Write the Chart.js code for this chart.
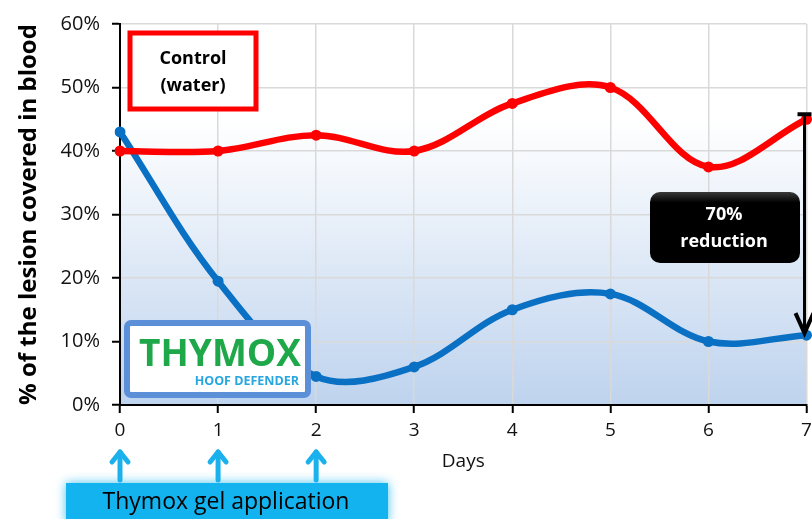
<!DOCTYPE html>
<html>
<head>
<meta charset="utf-8">
<script src="https://cdn.jsdelivr.net/npm/chart.js@4.4.1/dist/chart.umd.min.js"></script>
<style>
  html, body { margin: 0; padding: 0; background: #fff; }
  #wrap { width: 812px; height: 519px; position: relative; }
</style>
</head>
<body>
<div id="wrap"><canvas id="chart" width="812" height="519"></canvas></div>
<script>
// data (percent of lesion covered in blood)
const days = ["0", "1", "2", "3", "4", "5", "6", "7"];
const controlWater = [40, 40, 42.5, 40, 47.5, 50, 37.5, 45];
const thymoxGel = [43, 19.5, 4.5, 6, 15, 17.5, 10, 11];
const applicationDays = [0, 1, 2];

const FONT = "'Open Sans', 'DejaVu Sans', sans-serif";

// white-to-blue fill behind the plot
const plotBackground = {
  id: "plotBackground",
  beforeDraw(chart) {
    const { ctx, chartArea: a } = chart;
    const g = ctx.createLinearGradient(0, a.top, 0, a.bottom);
    g.addColorStop(0, "#ffffff");
    g.addColorStop(0.25, "#ffffff");
    g.addColorStop(1, "#bed3ee");
    ctx.save();
    ctx.fillStyle = g;
    ctx.fillRect(a.left, a.top, a.right - a.left, a.bottom - a.top);
    ctx.restore();
  },
};

function roundRect(ctx, x, y, w, h, r) {
  ctx.beginPath();
  ctx.moveTo(x + r, y);
  ctx.arcTo(x + w, y, x + w, y + h, r);
  ctx.arcTo(x + w, y + h, x, y + h, r);
  ctx.arcTo(x, y + h, x, y, r);
  ctx.arcTo(x, y, x + w, y, r);
  ctx.closePath();
}

// boxes, logo, arrows
const annotations = {
  id: "annotations",
  afterDatasetsDraw(chart) {
    const { ctx, scales } = chart;
    const x = scales.x, y = scales.y;
    ctx.save();

    // Control (water) box
    ctx.fillStyle = "#ffffff";
    ctx.fillRect(130, 33, 126, 76);
    ctx.strokeStyle = "#ff0000";
    ctx.lineWidth = 5;
    ctx.strokeRect(130, 33, 126, 76);
    ctx.fillStyle = "#000";
    ctx.font = "bold 18px " + FONT;
    ctx.textAlign = "center";
    ctx.textBaseline = "middle";
    ctx.fillText("Control", 193, 59);
    ctx.fillText("(water)", 193, 86);

    // THYMOX logo box
    roundRect(ctx, 127, 323, 181, 72, 4);
    ctx.fillStyle = "#ffffff";
    ctx.fill();
    ctx.strokeStyle = "#5b8fd8";
    ctx.lineWidth = 6;
    ctx.stroke();
    ctx.fillStyle = "#1fa84a";
    ctx.font = "bold 37px " + FONT;
    ctx.textAlign = "center";
    ctx.textBaseline = "alphabetic";
    ctx.fillText("THYMOX", 220, 366);
    ctx.fillStyle = "#27a6df";
    ctx.font = "bold 12.5px " + FONT;
    ctx.textAlign = "right";
    ctx.fillText("HOOF DEFENDER", 299, 385);

    // reduction arrow between the two day-7 values
    const ax = x.getPixelForValue(7) - 2;
    const yTop = y.getPixelForValue(controlWater[7]) - 5;
    const yBot = y.getPixelForValue(thymoxGel[7]) - 2;
    ctx.strokeStyle = "#000";
    ctx.lineWidth = 3;
    ctx.beginPath();
    ctx.moveTo(ax, yTop);
    ctx.lineTo(ax, yBot);
    ctx.stroke();
    ctx.lineWidth = 4;
    ctx.beginPath();
    ctx.moveTo(ax - 7, yTop);
    ctx.lineTo(ax + 7, yTop);
    ctx.stroke();
    ctx.beginPath();
    ctx.moveTo(ax - 9, yBot - 20);
    ctx.lineTo(ax, yBot);
    ctx.lineTo(ax + 9, yBot - 20);
    ctx.stroke();

    // 70% reduction label
    const lg = ctx.createLinearGradient(0, 192, 0, 263);
    lg.addColorStop(0, "#3a3a3a");
    lg.addColorStop(0.15, "#000000");
    lg.addColorStop(1, "#000000");
    roundRect(ctx, 650, 192, 150, 71, 10);
    ctx.fillStyle = lg;
    ctx.fill();
    ctx.fillStyle = "#ffffff";
    ctx.font = "bold 18px " + FONT;
    ctx.textAlign = "center";
    ctx.textBaseline = "middle";
    ctx.fillText("70%", 724, 215);
    ctx.fillText("reduction", 724, 242);

    // gel application box with glow
    ctx.save();
    ctx.shadowColor = "rgba(20, 180, 240, 0.8)";
    ctx.shadowBlur = 10;
    ctx.fillStyle = "#13b3ef";
    ctx.fillRect(66, 483, 322, 40);
    ctx.restore();
    ctx.fillStyle = "#000";
    ctx.font = "23px " + FONT;
    ctx.textAlign = "center";
    ctx.textBaseline = "middle";
    ctx.fillText("Thymox gel application", 226, 502);

    // up arrows under the application days
    ctx.strokeStyle = "#1ab1ed";
    ctx.lineWidth = 5;
    ctx.lineCap = "round";
    ctx.lineJoin = "round";
    applicationDays.forEach((d) => {
      const px = x.getPixelForValue(d);
      ctx.beginPath();
      ctx.moveTo(px, 480);
      ctx.lineTo(px, 452);
      ctx.stroke();
      ctx.beginPath();
      ctx.moveTo(px - 8, 462);
      ctx.lineTo(px, 452);
      ctx.lineTo(px + 8, 462);
      ctx.stroke();
    });

    ctx.restore();
  },
};

const ctx = document.getElementById("chart").getContext("2d");

new Chart(ctx, {
  type: "line",
  data: {
    labels: days,
    datasets: [
      {
        label: "Control (water)",
        data: controlWater,
        borderColor: "#ff0000",
        backgroundColor: "#ff0000",
        borderWidth: 6.5,
        pointRadius: 5.5,
        pointBorderWidth: 0,
        tension: 0.35,
      },
      {
        label: "Thymox",
        data: thymoxGel,
        borderColor: "#0a70c4",
        backgroundColor: "#0a70c4",
        borderWidth: 6.5,
        pointRadius: 5.5,
        pointBorderWidth: 0,
        tension: 0.35,
      },
    ],
  },
  options: {
    responsive: false,
    animation: false,
    layout: { padding: { top: 20, right: 3, left: 0, bottom: 0 } },
    plugins: {
      legend: { display: false },
      tooltip: { enabled: false },
    },
    scales: {
      x: {
        offset: false,
        afterFit: (scale) => {
          scale.height = 114;
          scale.paddingLeft = 0;
          scale.paddingRight = 0;
        },
        grid: {
          color: "#d9d9d9",
          lineWidth: 1.5,
          tickColor: "#000",
          tickLength: 8,
          tickWidth: 2,
        },
        border: { color: "#000", width: 2 },
        ticks: { color: "#111", font: { family: FONT, size: 19 }, padding: 6 },
        title: {
          display: true,
          text: "Days",
          color: "#111",
          font: { family: FONT, size: 19 },
          padding: { bottom: 46 },
        },
      },
      y: {
        min: 0,
        max: 60,
        afterFit: (scale) => { scale.width = 120; },
        grid: {
          color: "#d9d9d9",
          lineWidth: 1.5,
          tickColor: "#000",
          tickLength: 8,
          tickWidth: 2,
        },
        border: { color: "#000", width: 2 },
        ticks: {
          stepSize: 10,
          color: "#111",
          font: { family: FONT, size: 20 },
          padding: 12,
          callback: (v) => v + "%",
        },
        title: {
          display: true,
          text: "% of the lesion covered in blood",
          color: "#000",
          font: { family: FONT, size: 24, weight: "bold" },
          padding: { top: 15 },
        },
      },
    },
  },
  plugins: [plotBackground, annotations],
});
</script>
</body>
</html>
